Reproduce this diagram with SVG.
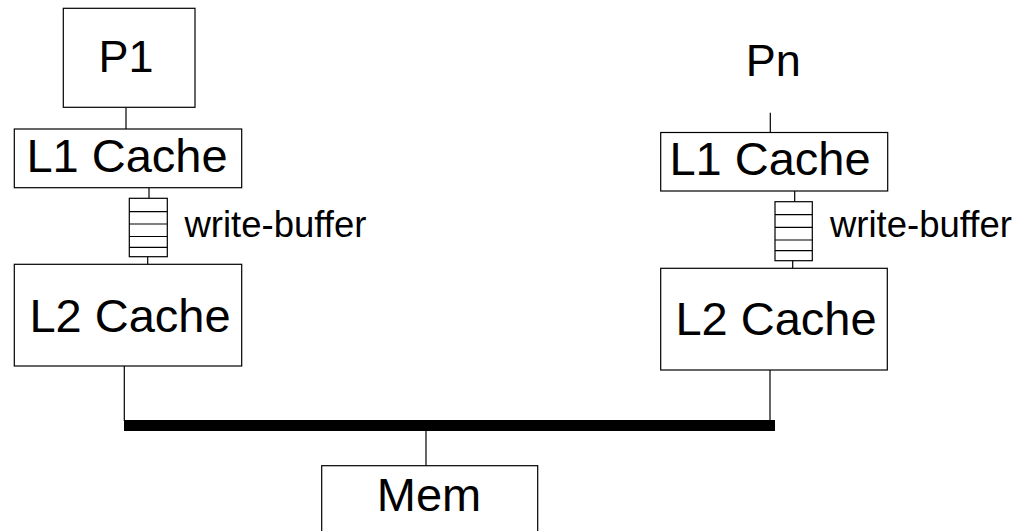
<svg xmlns="http://www.w3.org/2000/svg" width="1018" height="531" viewBox="0 0 1018 531">
<style>
.box{fill:#fff;stroke:#000;stroke-width:1.2}
.ln{stroke:#000;stroke-width:1.2;fill:none}
.t{font-family:"Liberation Sans",Arial,sans-serif;fill:#000;text-anchor:middle}
.big{font-size:47px}
.p{font-size:45px}
.wb{font-size:36.5px;text-anchor:start}
</style>
<rect width="1018" height="531" fill="#fff"/>
<g id="connectors">
<line class="ln" x1="126" y1="107.3" x2="126" y2="129"/>
<line class="ln" x1="149" y1="187.7" x2="149" y2="198.3"/>
<line class="ln" x1="147.7" y1="256.7" x2="147.7" y2="264.3"/>
<line class="ln" x1="124.3" y1="366" x2="124.3" y2="421"/>
<line class="ln" x1="770.3" y1="112.7" x2="770.3" y2="132.5"/>
<line class="ln" x1="794.7" y1="191" x2="794.7" y2="201.7"/>
<line class="ln" x1="792.7" y1="260.7" x2="792.7" y2="268.3"/>
<line class="ln" x1="770" y1="370" x2="770" y2="421"/>
<line class="ln" x1="426" y1="430" x2="426" y2="465.7"/>
<rect id="bus" x="124" y="420" width="651" height="11" fill="#000"/>
</g>
<g id="p1">
<rect class="box" x="63.3" y="8.3" width="131.7" height="99"/>
<text class="t p" x="126" y="72.3">P1</text>
</g>
<g id="l1-left">
<rect class="box" x="14.3" y="129" width="227.4" height="58.7"/>
<text class="t big" x="127" y="171.7">L1 Cache</text>
</g>
<g id="wb-left">
<rect class="box" x="129.3" y="198.3" width="38" height="58.4"/>
<path class="ln" d="M129.3 211.7H167.3M129.3 224H167.3M129.3 236.5H167.3M129.3 247.3H167.3"/>
<text class="t wb" x="184.5" y="237.3">write-buffer</text>
</g>
<g id="l2-left">
<rect class="box" x="14.3" y="264.3" width="227.4" height="101.7"/>
<text class="t big" x="130" y="332.3">L2 Cache</text>
</g>
<g id="pn">
<text class="t p" x="773.3" y="75.5">Pn</text>
</g>
<g id="l1-right">
<rect class="box" x="660.7" y="132.5" width="227" height="58.5"/>
<text class="t big" x="770" y="175">L1 Cache</text>
</g>
<g id="wb-right">
<rect class="box" x="775" y="201.7" width="37.3" height="59"/>
<path class="ln" d="M775 214.7H812.3M775 227.3H812.3M775 240H812.3M775 250.7H812.3"/>
<text class="t wb" x="830" y="236.7">write-buffer</text>
</g>
<g id="l2-right">
<rect class="box" x="660.7" y="268.3" width="226.6" height="101.7"/>
<text class="t big" x="776" y="335">L2 Cache</text>
</g>
<g id="mem">
<rect class="box" x="321.7" y="465.7" width="216" height="80"/>
<text class="t big" x="429" y="511">Mem</text>
</g>
</svg>
